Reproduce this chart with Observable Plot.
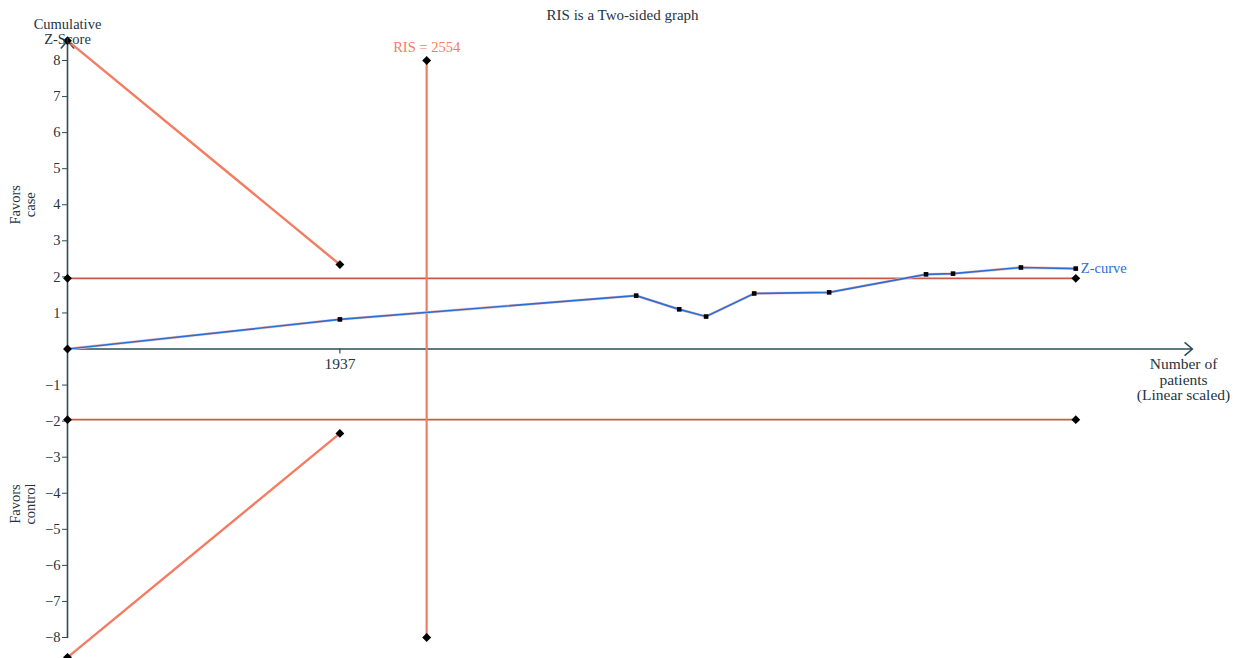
<!DOCTYPE html>
<html>
<head>
<meta charset="utf-8">
<script src="https://cdn.jsdelivr.net/npm/d3@7"></script>
<script src="https://cdn.jsdelivr.net/npm/@observablehq/plot@0.6"></script>
<style>
  html, body { margin: 0; padding: 0; background: #fff; }
  #chart svg { display: block; overflow: visible; }
</style>
</head>
<body>
<div id="chart"></div>
<script>
// Z-curve (cumulative number of patients, cumulative Z-score)
const zPatients = [0, 1937, 4044, 4350, 4541, 4883, 5416, 6105, 6297, 6780, 7170];
const zScores   = [0, 0.82, 1.48, 1.10, 0.90, 1.54, 1.57, 2.07, 2.09, 2.26, 2.23];

// Trial sequential monitoring boundaries
const boundPatients = [0, 1937];
const upperBound    = [8.55, 2.34];
const lowerBound    = [-8.55, -2.34];

// Conventional boundaries (±1.96)
const convPatients = [0, 7170];
const convZ        = [1.96, -1.96];

// Required information size
const ris = 2554;
const risZ = [-8, 8];

const yTicks = [-8, -7, -6, -5, -4, -3, -2, -1, 1, 2, 3, 4, 5, 6, 7, 8];
const xTickLabels = [1937];

const zData = zPatients.map((p, i) => ({x: p, y: zScores[i]}));
const upperData = boundPatients.map((p, i) => ({x: p, y: upperBound[i]}));
const lowerData = boundPatients.map((p, i) => ({x: p, y: lowerBound[i]}));
const convUp = convPatients.map(p => ({x: p, y: convZ[0]}));
const convLo = convPatients.map(p => ({x: p, y: convZ[1]}));
const risData = risZ.map(z => ({x: ris, y: z}));
const diamonds = [...upperData, ...lowerData, ...convUp, ...convLo, ...risData, {x: 0, y: 0}];

const axisColor = "#2c4d58";
const textColor = "#25353f";
const orange = "#f47c62";
const darkRed = "#c95a44";
const blue = "#2b6ed6";
const font = "Liberation Serif, Times New Roman, serif";

const chart = Plot.plot({
  width: 1236,
  height: 658,
  marginLeft: 67,
  marginRight: 44,
  marginTop: 60,
  marginBottom: 21,
  style: {fontFamily: font, fontSize: "14px", color: textColor, background: "#fff"},
  x: {type: "linear", domain: [0, 8000], axis: null},
  y: {type: "linear", domain: [-8, 8], axis: null},
  marks: [
    // y axis
    Plot.axisY({ticks: yTicks, tickSize: 5, tickPadding: 2, stroke: axisColor, fill: textColor, fontSize: 14.5, label: null, tickFormat: d => d < 0 ? "\u2212" + Math.abs(d) : String(d)}),
    Plot.arrow([{x: 0, y1: -8, y2: 8.55}], {x1: "x", x2: "x", y1: "y1", y2: "y2", stroke: axisColor, strokeWidth: 1.6, headLength: 9, headAngle: 80}),
    // x axis
    Plot.arrow([{x1: 0, x2: 8000, y: 0}], {x1: "x1", x2: "x2", y1: "y", y2: "y", stroke: axisColor, strokeWidth: 1.6, headLength: 9, headAngle: 80}),
    Plot.ruleX(xTickLabels, {x: d => d, y1: 0, y2: -0.14, stroke: axisColor, strokeWidth: 1.2}),
    Plot.text(xTickLabels, {x: d => d, y: 0, text: d => String(d), dy: 15, fill: textColor, fontSize: 15.5}),
    // conventional boundaries
    Plot.line(convUp, {x: "x", y: "y", stroke: darkRed, strokeWidth: 1.8}),
    Plot.line(convLo, {x: "x", y: "y", stroke: darkRed, strokeWidth: 1.8}),
    // monitoring boundaries
    Plot.line(upperData, {x: "x", y: "y", stroke: orange, strokeWidth: 2.4}),
    Plot.line(lowerData, {x: "x", y: "y", stroke: orange, strokeWidth: 2.4}),
    // RIS
    Plot.line(risData, {x: "x", y: "y", stroke: orange, strokeWidth: 2.2}),
    // Z-curve
    Plot.line(zData, {x: "x", y: "y", stroke: "#f6c8c2", strokeWidth: 2.8}),
    Plot.line(zData, {x: "x", y: "y", stroke: blue, strokeWidth: 1.7}),
    Plot.dot(zData.slice(1), {x: "x", y: "y", symbol: "square", r: 2.6, fill: "#000"}),
    Plot.dot(diamonds, {x: "x", y: "y", symbol: "diamond2", r: 4, fill: "#000"}),
    // texts
    Plot.text(["RIS is a Two-sided graph"], {x: 3947, y: 9.25, text: d => d, fill: textColor, fontSize: 15}),
    Plot.text(["Cumulative\nZ-Score"], {x: 0, y: 8.55, text: d => d, lineAnchor: "bottom", dy: 3, fill: textColor, fontSize: 14.5, lineHeight: 1.0}),
    Plot.text(["Favors\ncase"], {x: -320, y: 4, text: d => d, rotate: -90, fill: textColor, fontSize: 14.5, lineHeight: 1.05}),
    Plot.text(["Favors\ncontrol"], {x: -320, y: -4.3, text: d => d, rotate: -90, fill: textColor, fontSize: 14.5, lineHeight: 1.05}),
    Plot.text(["Number of\npatients\n(Linear scaled)"], {x: 8000, y: 0, text: d => d, lineAnchor: "top", dx: -9, dy: 9, fill: textColor, fontSize: 15.5, lineHeight: 1.0}),
    Plot.text([`RIS = ${ris}`], {x: ris, y: 8, text: d => d, dy: -13, fill: orange, fontSize: 14.5}),
    Plot.text(["Z-curve"], {x: zPatients[zPatients.length - 1], y: zScores[zScores.length - 1], text: d => d, dx: 5, textAnchor: "start", fill: blue, fontSize: 14.5})
  ]
});
document.getElementById("chart").appendChild(chart);
</script>
</body>
</html>
